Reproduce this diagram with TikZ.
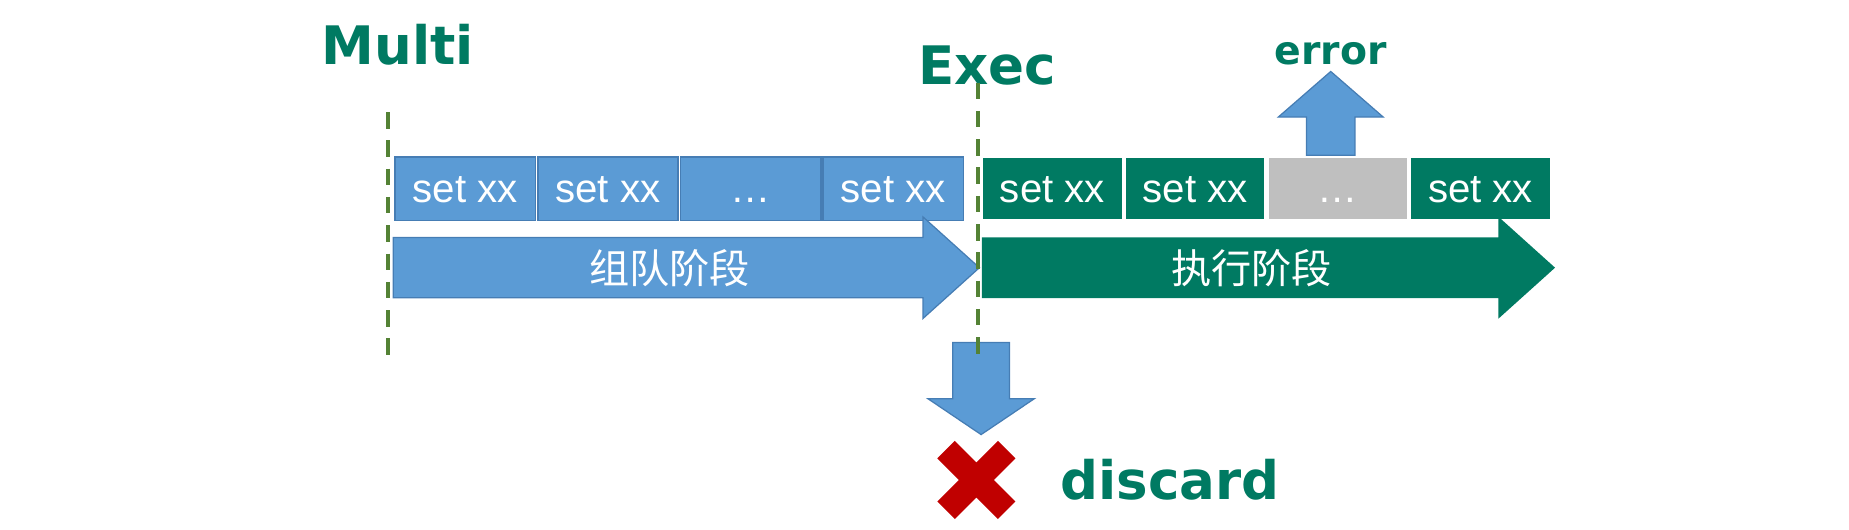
\documentclass[tikz,border=0pt]{standalone}
\usepackage{fontspec}
\setmainfont{Liberation Sans}
\newfontfamily\headfont{DejaVu Sans}
\newfontfamily\cjk{Noto Sans CJK SC}
\usetikzlibrary{arrows.meta,positioning,shapes.arrows}
\definecolor{txblue}{RGB}{91,155,213}
\definecolor{txblueline}{RGB}{70,125,180}
\definecolor{txgreen}{RGB}{0,122,98}
\definecolor{txgray}{RGB}{191,191,191}
\definecolor{txdash}{RGB}{84,130,53}
\definecolor{txred}{RGB}{192,0,0}
\tikzset{
  cmdbox/.style   ={rectangle, minimum width=11.9mm, minimum height=5.4mm, inner sep=0pt,
                    text height=2.4mm, text depth=0pt,
                    text=white, font=\fontsize{9.7}{11}\selectfont},
  cmdqueued/.style={cmdbox, fill=txblue, draw=txblueline, line width=0.4pt},
  cmdrun/.style   ={cmdbox, fill=txgreen, draw=white, line width=0.5pt},
  cmdfail/.style  ={cmdbox, fill=txgray, draw=white, line width=0.5pt},
  stagearrow/.style={single arrow, anchor=tail, inner sep=0pt, text height=3.8mm, text depth=1.2mm,
                     single arrow head extend=1.75mm, single arrow tip angle=84,
                     text=white, font=\cjk\fontsize{9.7}{11}\selectfont},
  flowarrow/.style={single arrow, anchor=tail, inner sep=0pt, text depth=0pt,
                    fill=txblue, draw=txblueline, line width=0.3pt},
  phase/.style    ={font=\headfont\bfseries\fontsize{12.8}{15}\selectfont, text=txgreen, inner sep=0pt},
  phasesmall/.style={phase, font=\headfont\bfseries\fontsize{9.5}{11}\selectfont},
  marker/.style   ={txdash, line width=1pt, dash pattern=on 1.4mm off 1mm},
}
\begin{document}
\begin{tikzpicture}
  \useasboundingbox (0,0) rectangle (15.68,4.49);
  \node[phase, anchor=base west] (multi) at (2.72,3.94) {Multi};
  \node[phase, anchor=base west] (exec) at (7.78,3.77) {Exec};
  \foreach \i/\x/\t in {1/3.945/set xx,2/5.155/set xx,3/6.365/…,4/7.575/set xx}
    \node[cmdqueued] (q\i) at (\x,2.89) {\t};
  \foreach \i/\x/\t/\s in {1/8.925/set xx/cmdrun,2/10.135/set xx/cmdrun,3/11.345/…/cmdfail,4/12.555/set xx/cmdrun}
    \node[\s] (r\i) at (\x,2.89) {\t};
  \node[stagearrow, fill=txblue, draw=txblueline, line width=0.3pt, minimum height=49.7mm] (queue) at (3.33,2.22) {组队阶段};
  \node[stagearrow, fill=txgreen, minimum height=48.6mm] (run) at (8.32,2.22) {执行阶段};
  \node[flowarrow, rotate=90, text height=4mm, minimum height=7.1mm,
        single arrow head extend=2.4mm, single arrow tip angle=98] (up) at ([xshift=-0.6mm]r3.north) {};
  \node[phasesmall, above=0.4mm of up.tip] (err) {error};
  \node[flowarrow, rotate=-90, text height=4.7mm, minimum height=7.8mm,
        single arrow head extend=2.1mm, single arrow tip angle=112] (down) at (8.32,1.59) {};
  \node[minimum size=5mm, inner sep=0pt] (cross) at (8.28,0.42) {};
  \draw[txred, line width=2.1mm] (cross.north west) -- (cross.south east)
                                 (cross.north east) -- (cross.south west);
  \node[phase, right=4.5mm of cross] (discard) {discard};
  \coordinate (m0) at (3.29,3.54);
  \coordinate (m1) at (3.29,1.41);
  \coordinate (e0) at (8.29,3.79);
  \coordinate (e1) at (8.29,1.41);
  \draw[marker] (m0) -- (m1);
  \draw[marker] (e0) -- (e1);
\end{tikzpicture}
\end{document}
